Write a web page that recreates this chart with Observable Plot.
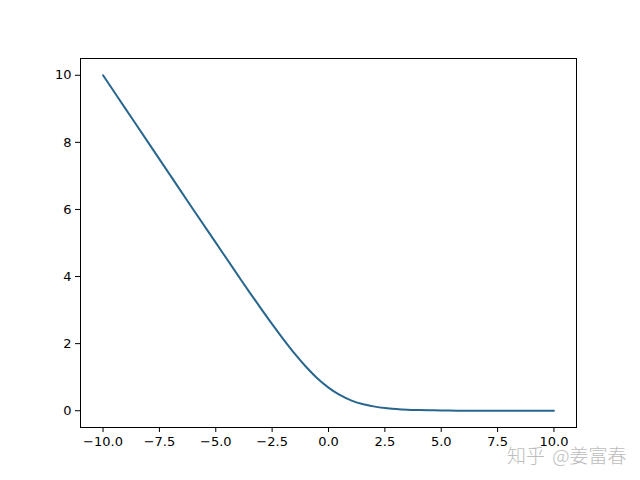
<!DOCTYPE html>
<html>
<head>
<meta charset="utf-8">
<script src="https://cdn.jsdelivr.net/npm/d3@7"></script>
<script src="https://cdn.jsdelivr.net/npm/@observablehq/plot@0.6"></script>
<style>
  html, body { margin: 0; padding: 0; background: #fff; }
  #wrap { position: relative; width: 640px; height: 480px; }
  #wm { position: absolute; left: 507px; top: 441px; font-family: "Noto Sans CJK SC", sans-serif; font-size: 19px; font-weight: 300; color: #bcbcbc; white-space: nowrap; word-spacing: 3px; }
</style>
</head>
<body>
<div id="wrap"></div>
<script>
// Values
const xs = [-10, -9, -8, -7, -6, -5, -4, -3.5, -3, -2.5, -2, -1.5, -1, -0.5, 0, 0.5, 1, 1.5, 2, 2.5, 3, 3.5, 4, 5, 6, 7, 8, 9, 10];
const ys = [10.0, 9.0, 8.0, 7.0, 6.0, 5.01, 4.02, 3.53, 3.05, 2.58, 2.13, 1.70, 1.31, 0.97, 0.69, 0.47, 0.31, 0.20, 0.13, 0.08, 0.05, 0.03, 0.02, 0.01, 0.0, 0.0, 0.0, 0.0, 0.0];
const xTicks = [-10, -7.5, -5, -2.5, 0, 2.5, 5, 7.5, 10];
const yTicks = [0, 2, 4, 6, 8, 10];
const watermark = "知乎 @姜富春";

const data = xs.map((x, i) => ({x, y: ys[i]}));

const chart = Plot.plot({
  width: 640,
  height: 480,
  marginLeft: 80,
  marginRight: 64,
  marginTop: 58,
  marginBottom: 53,
  style: {fontFamily: "DejaVu Sans", fontSize: "13px", color: "#000", background: "#fff"},
  x: {domain: [-11, 11]},
  y: {domain: [-0.5, 10.5]},
  marks: [
    Plot.line(data, {x: "x", y: "y", stroke: "#28668e", strokeWidth: 2, curve: "monotone-x"}),
    Plot.frame({stroke: "#000", strokeWidth: 1}),
    Plot.axisX({ticks: xTicks, tickFormat: d3.format(".1f"), tickSize: 5, tickPadding: 4, label: null, fontSize: 13}),
    Plot.axisY({ticks: yTicks, tickFormat: d3.format("d"), tickSize: 5, tickPadding: 4, label: null, fontSize: 13})
  ]
});
const wrap = document.getElementById("wrap");
wrap.appendChild(chart);
const wm = document.createElement("div");
wm.id = "wm";
wm.textContent = watermark;
wrap.appendChild(wm);
</script>
</body>
</html>
